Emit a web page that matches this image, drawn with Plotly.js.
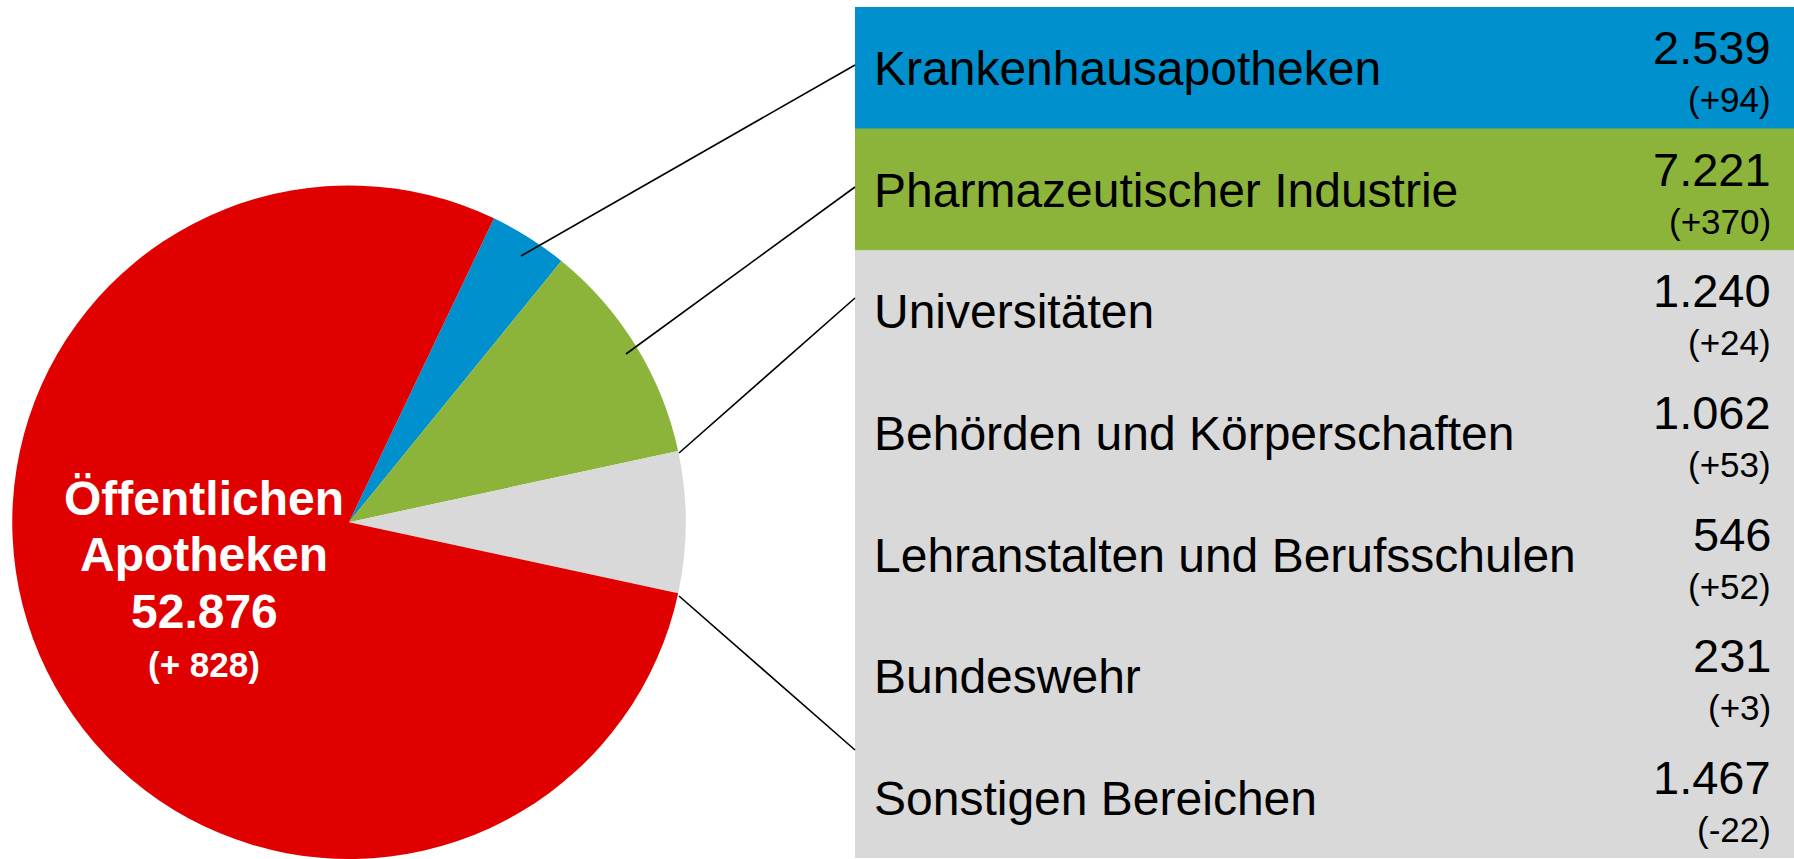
<!DOCTYPE html>
<html><head><meta charset="utf-8">
<script src="https://cdn.plot.ly/plotly-3.0.1.min.js"></script>
<style>html,body{margin:0;padding:0;background:#fff}#chart{width:1794px;height:859px}</style>
</head><body><div id="chart"></div>
<script>
// ---- data ----
const publicLabel = ['Öffentlichen', 'Apotheken'];
const publicCount = 52876;
const publicChange = 828;
const categories = ['Krankenhausapotheken', 'Pharmazeutischer Industrie', 'Universitäten',
  'Behörden und Körperschaften', 'Lehranstalten und Berufsschulen', 'Bundeswehr', 'Sonstigen Bereichen'];
const counts = [2539, 7221, 1240, 1062, 546, 231, 1467];
const changes = [94, 370, 24, 53, 52, 3, -22];

// ---- styles ----
const RED = '#E10000', BLUE = '#0090CD', GREEN = '#8CB43A', GREY = '#D9D9D9';
const rowColors = [BLUE, GREEN, GREY, GREY, GREY, GREY, GREY];
const FONT = 'Liberation Sans, Arial, sans-serif';
const W = 1794, H = 859;
const px = x => x / W, py = y => 1 - y / H;

function fmt(n) { return String(n).replace(/\B(?=(\d{3})+(?!\d))/g, '.'); }
function fmtChange(n) { return '(' + (n >= 0 ? '+' : '-') + Math.abs(n) + ')'; }

// pie: first two table categories, then the rest combined, then public pharmacies
const otherSum = counts.slice(2).reduce((a, b) => a + b, 0);
const pieValues = [counts[0], counts[1], otherSum, publicCount];
const pieLabels = [categories[0], categories[1], 'Andere Bereiche', publicLabel.join(' ')];

const trace = {
  type: 'pie', values: pieValues, labels: pieLabels, sort: false, direction: 'clockwise',
  rotation: 25.5, textinfo: 'none', hoverinfo: 'none',
  marker: { colors: [BLUE, GREEN, GREY, RED], line: { width: 0 } },
  domain: { x: [px(11.5), px(686.5)], y: [0, py(185.5)] },
  showlegend: false
};

const shapes = [], annotations = [];
const tTop = 7, tBottom = 858, tLeft = 855, tRight = 1794;
const rowH = (tBottom - tTop) / categories.length;
categories.forEach((c, i) => {
  const y0 = tTop + i * rowH, yc = y0 + rowH / 2;
  shapes.push({ type: 'rect', xref: 'paper', yref: 'paper', x0: px(tLeft), x1: px(tRight),
    y0: py(y0), y1: py(y0 + rowH + (i < categories.length - 1 ? 0.5 : 0)), fillcolor: rowColors[i], line: { width: 0 }, layer: 'below' });
  annotations.push({ xref: 'paper', yref: 'paper', x: px(872), y: py(yc + 1), xanchor: 'left', yanchor: 'middle',
    text: c, showarrow: false, font: { family: FONT, size: 48, color: '#000' } });
  annotations.push({ xref: 'paper', yref: 'paper', x: px(1773), y: py(yc - 20), xanchor: 'right', yanchor: 'middle',
    text: fmt(counts[i]), showarrow: false, font: { family: FONT, size: 47, color: '#000' } });
  annotations.push({ xref: 'paper', yref: 'paper', x: px(1773), y: py(yc + 32), xanchor: 'right', yanchor: 'middle',
    text: fmtChange(changes[i]), showarrow: false, font: { family: FONT, size: 35, color: '#000' } });
});

// leader lines
const leaders = [[521, 256, 855, 65], [626, 354, 855, 187], [679, 453, 855, 298], [679, 596, 855, 750]];
leaders.forEach(l => shapes.push({ type: 'line', xref: 'paper', yref: 'paper',
  x0: px(l[0]), y0: py(l[1]), x1: px(l[2]), y1: py(l[3]), line: { color: '#000', width: 1.6 } }));

// label inside red slice
const cx = 204;
[[publicLabel[0], 498, 48], [publicLabel[1], 554, 48], [fmt(publicCount), 611, 48],
 ['(+ ' + publicChange + ')', 664, 35]].forEach(t => annotations.push({
  xref: 'paper', yref: 'paper', x: px(cx), y: py(t[1]), xanchor: 'center', yanchor: 'middle',
  text: '<b>' + t[0] + '</b>', showarrow: false, font: { family: FONT, size: t[2], color: '#fff' } }));

Plotly.newPlot('chart', [trace], {
  width: W, height: H, margin: { l: 0, r: 0, t: 0, b: 0 },
  paper_bgcolor: '#fff', plot_bgcolor: '#fff', shapes, annotations, showlegend: false
}, { displayModeBar: false, staticPlot: true });
</script></body></html>
